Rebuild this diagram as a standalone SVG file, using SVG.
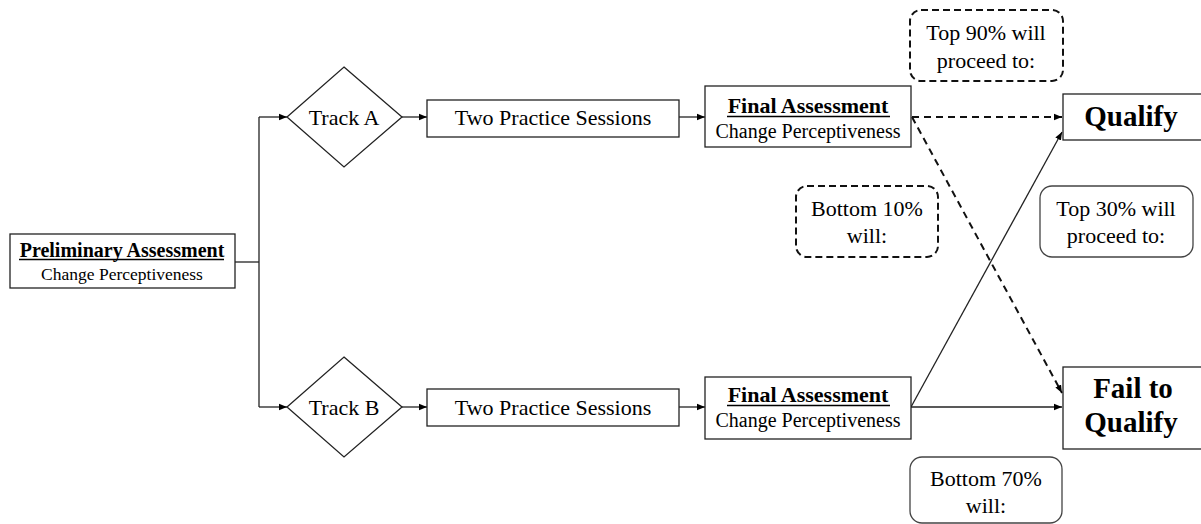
<svg xmlns="http://www.w3.org/2000/svg" width="1201" height="524" viewBox="0 0 1201 524">
<defs>
<marker id="ah" markerWidth="8" markerHeight="8" refX="8" refY="4" orient="auto" markerUnits="userSpaceOnUse">
<path d="M0,0.8 L8,4 L0,7.2 Z" fill="#000"/>
</marker>
<style>
.box{fill:#fff;stroke:#222;stroke-width:1.3}
.rbox{fill:#fff;stroke:#444;stroke-width:1.3}
.dbox{fill:#fff;stroke:#111;stroke-width:2;stroke-dasharray:7 4}
.t{font-family:"Liberation Serif","Times New Roman",serif;fill:#000;text-anchor:middle}
.b{font-weight:bold}
.ln{fill:none;stroke:#222;stroke-width:1.3}
.dl{fill:none;stroke:#111;stroke-width:2;stroke-dasharray:7 5}
</style>
</defs>
<rect width="1201" height="524" fill="#fff"/>
<g id="connectors">
<polyline class="ln" points="235,262 259,262"/>
<polyline class="ln" points="259,117 259,407"/>
<line class="ln" x1="259" y1="117" x2="287" y2="117" marker-end="url(#ah)"/>
<line class="ln" x1="259" y1="407" x2="287" y2="407" marker-end="url(#ah)"/>
<line class="ln" x1="402" y1="117" x2="427" y2="117" marker-end="url(#ah)"/>
<line class="ln" x1="402" y1="407" x2="427" y2="407" marker-end="url(#ah)"/>
<line class="ln" x1="679" y1="117" x2="705" y2="117" marker-end="url(#ah)"/>
<line class="ln" x1="679" y1="407" x2="705" y2="407" marker-end="url(#ah)"/>
<line class="dl" x1="912" y1="117" x2="1062" y2="117" marker-end="url(#ah)"/>
<line class="dl" x1="912" y1="117" x2="1062" y2="393" marker-end="url(#ah)"/>
<line class="ln" x1="911" y1="407" x2="1062" y2="132" marker-end="url(#ah)"/>
<line class="ln" x1="911" y1="407" x2="1062" y2="407" marker-end="url(#ah)"/>
</g>
<g id="prelim">
<rect class="box" x="10" y="234" width="225" height="54"/>
<text class="t b" x="122" y="257" font-size="20">Preliminary Assessment</text>
<line x1="19" y1="259.5" x2="224" y2="259.5" stroke="#000" stroke-width="1.5"/>
<text class="t" x="122" y="280" font-size="17.5">Change Perceptiveness</text>
</g>
<g id="trackA">
<polygon class="box" points="344,67 402,117 344,167 287,117"/>
<text class="t" x="344" y="125" font-size="22">Track A</text>
</g>
<g id="trackB">
<polygon class="box" points="344,357 402,407 344,457 287,407"/>
<text class="t" x="344" y="415" font-size="22">Track B</text>
</g>
<g id="practiceA">
<rect class="box" x="427" y="100" width="252" height="37"/>
<text class="t" x="553" y="125" font-size="22">Two Practice Sessions</text>
</g>
<g id="practiceB">
<rect class="box" x="427" y="389" width="252" height="37"/>
<text class="t" x="553" y="415" font-size="22">Two Practice Sessions</text>
</g>
<g id="finalA">
<rect class="box" x="705" y="86" width="206" height="61"/>
<text class="t b" x="808" y="113" font-size="22">Final Assessment</text>
<line x1="727" y1="116.5" x2="890" y2="116.5" stroke="#000" stroke-width="1.5"/>
<text class="t" x="808" y="138" font-size="20">Change Perceptiveness</text>
</g>
<g id="finalB">
<rect class="box" x="705" y="377" width="206" height="62"/>
<text class="t b" x="808" y="402" font-size="22">Final Assessment</text>
<line x1="727" y1="405.5" x2="890" y2="405.5" stroke="#000" stroke-width="1.5"/>
<text class="t" x="808" y="427" font-size="20">Change Perceptiveness</text>
</g>
<g id="qualify">
<rect class="box" x="1063" y="94" width="140" height="46"/>
<text class="t b" x="1131" y="126" font-size="29">Qualify</text>
</g>
<g id="fail">
<rect class="box" x="1063" y="367" width="140" height="82"/>
<text class="t b" x="1133" y="398" font-size="29">Fail to</text>
<text class="t b" x="1131" y="432" font-size="29">Qualify</text>
</g>
<g id="top90">
<rect class="dbox" x="910" y="10" width="153" height="71" rx="11"/>
<text class="t" x="986" y="40" font-size="22">Top 90% will</text>
<text class="t" x="986" y="68" font-size="22">proceed to:</text>
</g>
<g id="bottom10">
<rect class="dbox" x="796" y="186" width="142" height="71" rx="11"/>
<text class="t" x="867" y="216" font-size="22">Bottom 10%</text>
<text class="t" x="867" y="243" font-size="22">will:</text>
</g>
<g id="top30">
<rect class="rbox" x="1040" y="186" width="153" height="71" rx="12"/>
<text class="t" x="1116" y="216" font-size="22">Top 30% will</text>
<text class="t" x="1116" y="243" font-size="22">proceed to:</text>
</g>
<g id="bottom70">
<rect class="rbox" x="910" y="457" width="152" height="66" rx="12"/>
<text class="t" x="986" y="486" font-size="22">Bottom 70%</text>
<text class="t" x="986" y="513" font-size="22">will:</text>
</g>
</svg>
